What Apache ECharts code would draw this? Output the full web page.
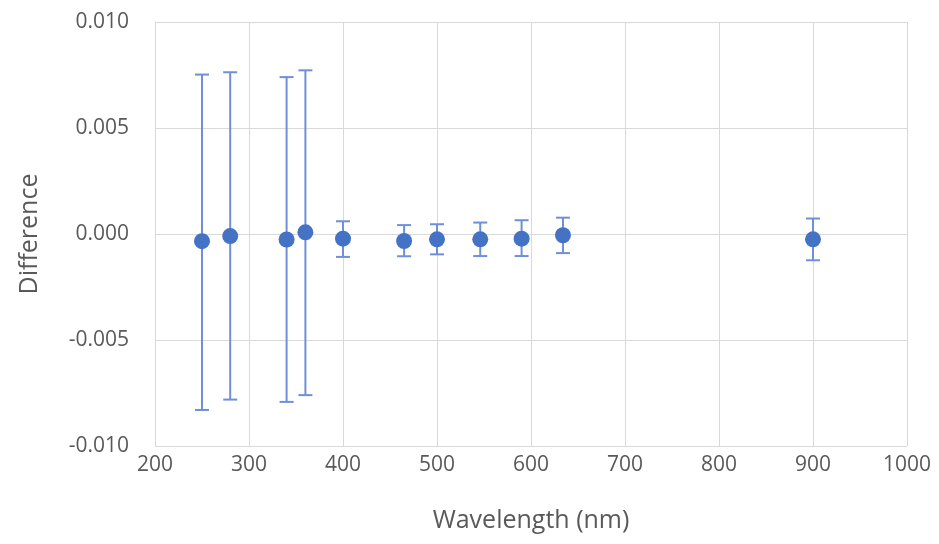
<!DOCTYPE html>
<html><head><meta charset="utf-8">
<script src="https://cdn.jsdelivr.net/npm/echarts@6/dist/echarts.min.js"></script>
<style>html,body{margin:0;padding:0;background:#fff}#c{width:939px;height:544px}</style>
</head><body><div id="c"></div>
<script>
const wavelengths = [250, 280, 340, 360, 400, 465, 500, 546, 590, 634, 900];
const differences = [-0.00034, -0.0001, -0.00026, 0.00008, -0.00022, -0.00033, -0.00025, -0.00025, -0.00022, -0.00006, -0.00025];
const errUpper = [0.00752, 0.00763, 0.0074, 0.00772, 0.0006, 0.00042, 0.00046, 0.00054, 0.00065, 0.00077, 0.00073];
const errLower = [-0.0083, -0.00781, -0.00792, -0.0076, -0.00108, -0.00105, -0.00096, -0.00104, -0.00104, -0.0009, -0.00124];
const xTicks = [200, 300, 400, 500, 600, 700, 800, 900, 1000];
const yTicks = [-0.010, -0.005, 0.000, 0.005, 0.010];

const pts = wavelengths.map((w, i) => [w, differences[i]]);
const errs = wavelengths.map((w, i) => [w, errLower[i], errUpper[i]]);
const font = 'Open Sans';
const chart = echarts.init(document.getElementById('c'));
chart.setOption({
  animation: false,
  grid: {left: 155, right: 32, top: 22, bottom: 98},
  xAxis: {
    type: 'value', min: xTicks[0], max: xTicks[xTicks.length-1], interval: 100,
    name: 'Wavelength (nm)', nameLocation: 'middle', nameGap: 62,
    nameTextStyle: {color: '#595959', fontSize: 25, fontFamily: font},
    axisLine: {show: true, lineStyle: {color: '#d9d9d9', width: 1}},
    axisTick: {show: false},
    axisLabel: {color: '#595959', fontSize: 21, fontFamily: font, margin: 9,
      formatter: v => String(v)},
    splitLine: {show: true, lineStyle: {color: '#d9d9d9', width: 1}}
  },
  yAxis: {
    type: 'value', min: yTicks[0], max: yTicks[yTicks.length-1], interval: 0.005,
    name: 'Difference', nameLocation: 'middle', nameGap: 113,
    nameTextStyle: {color: '#595959', fontSize: 25, fontFamily: font},
    axisLine: {show: true, lineStyle: {color: '#d9d9d9', width: 1}},
    axisTick: {show: false},
    axisLabel: {color: '#595959', fontSize: 21, fontFamily: font, margin: 26,
      formatter: v => v.toFixed(3)},
    splitLine: {show: true, lineStyle: {color: '#d9d9d9', width: 1}}
  },
  series: [
    {
      type: 'custom', data: errs, z: 2,
      renderItem: function (params, api) {
        const x = api.value(0);
        const lo = api.coord([x, api.value(1)]);
        const hi = api.coord([x, api.value(2)]);
        const hw = 7;
        const style = {stroke: '#6f8fd8', lineWidth: 2};
        return {type: 'group', children: [
          {type: 'line', shape: {x1: lo[0], y1: lo[1], x2: hi[0], y2: hi[1]}, style: style},
          {type: 'line', shape: {x1: hi[0]-hw, y1: hi[1], x2: hi[0]+hw, y2: hi[1]}, style: style},
          {type: 'line', shape: {x1: lo[0]-hw, y1: lo[1], x2: lo[0]+hw, y2: lo[1]}, style: style}
        ]};
      }
    },
    {
      type: 'scatter', data: pts, z: 3, symbol: 'circle', symbolSize: 16,
      itemStyle: {color: '#4472c4', opacity: 1}
    }
  ]
});
</script></body></html>
